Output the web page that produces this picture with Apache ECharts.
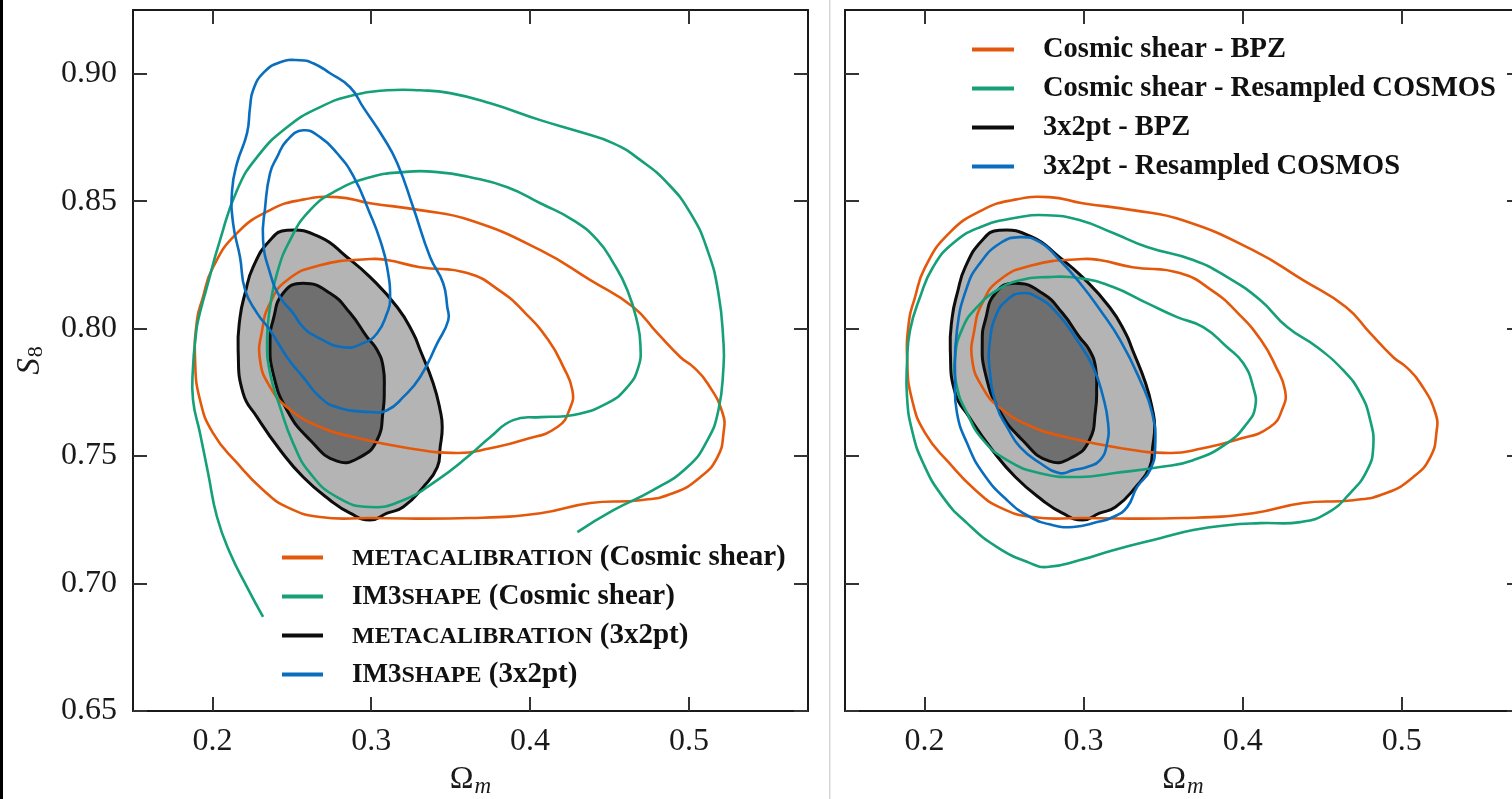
<!DOCTYPE html>
<html>
<head>
<meta charset="utf-8">
<script src="https://cdn.jsdelivr.net/npm/echarts@6/dist/echarts.min.js"></script>
<style>
  html, body { margin: 0; padding: 0; background: #fff; }
  #chart { width: 1512px; height: 799px; }
</style>
</head>
<body>
<div id="chart"></div>
<script>
// Tick positions shared by both panels
const omegaTicks = [0.2, 0.3, 0.4, 0.5];
const s8Ticks = [0.65, 0.70, 0.75, 0.80, 0.85, 0.90];

// Contours as [Omega_m, S8] pairs (95% and 68% levels)
// Cosmic shear, BPZ photo-z (metacalibration)
const shearBpz95 = [[0.2785,0.8516],[0.2993,0.8492],[0.3308,0.8465],[0.3624,0.8425],[0.4065,0.8308],[0.4380,0.8190],[0.4651,0.8084],[0.4802,0.7982],[0.4947,0.7888],[0.5029,0.7849],[0.5117,0.7786],[0.5212,0.7669],[0.5218,0.7590],[0.5180,0.7496],[0.5073,0.7418],[0.4903,0.7355],[0.4695,0.7327],[0.4380,0.7316],[0.4065,0.7276],[0.3624,0.7257],[0.2993,0.7257],[0.2678,0.7261],[0.2470,0.7300],[0.2319,0.7367],[0.2155,0.7473],[0.2004,0.7590],[0.1922,0.7720],[0.1891,0.7876],[0.1903,0.8033],[0.1935,0.8112],[0.2004,0.8241],[0.2155,0.8375],[0.2363,0.8465],[0.2552,0.8504]];
const shearBpz68 = [[0.2993,0.8273],[0.3100,0.8269],[0.3308,0.8241],[0.3605,0.8218],[0.3813,0.8147],[0.3970,0.8061],[0.4115,0.7955],[0.4210,0.7849],[0.4266,0.7759],[0.4254,0.7692],[0.4172,0.7614],[0.3957,0.7563],[0.3750,0.7531],[0.3542,0.7512],[0.3201,0.7535],[0.2886,0.7575],[0.2678,0.7614],[0.2470,0.7692],[0.2363,0.7771],[0.2300,0.7876],[0.2313,0.7994],[0.2363,0.8100],[0.2470,0.8190],[0.2678,0.8249]];
// 3x2pt, BPZ photo-z (metacalibration), filled
const x2ptBpz95 = [[0.2470,0.8386],[0.2678,0.8359],[0.2848,0.8280],[0.2993,0.8202],[0.3164,0.8084],[0.3264,0.7982],[0.3308,0.7916],[0.3390,0.7786],[0.3434,0.7680],[0.3447,0.7614],[0.3434,0.7535],[0.3416,0.7457],[0.3327,0.7378],[0.3201,0.7300],[0.3100,0.7276],[0.2993,0.7249],[0.2867,0.7276],[0.2741,0.7327],[0.2571,0.7418],[0.2426,0.7524],[0.2281,0.7653],[0.2193,0.7747],[0.2162,0.7916],[0.2174,0.8045],[0.2206,0.8139],[0.2256,0.8241],[0.2363,0.8347]];
const x2ptBpz68 = [[0.2571,0.8178],[0.2741,0.8139],[0.2867,0.8061],[0.2974,0.7967],[0.3037,0.7916],[0.3075,0.7849],[0.3082,0.7759],[0.3075,0.7680],[0.3037,0.7563],[0.2930,0.7496],[0.2785,0.7480],[0.2615,0.7563],[0.2470,0.7680],[0.2382,0.7825],[0.2363,0.7955],[0.2382,0.8033],[0.2445,0.8139]];
// im3shape cosmic shear (outer level leaves the plotted range at the bottom)
const im3Shear95 = [[0.2319,0.6869],[0.2218,0.6986],[0.2111,0.7120],[0.2029,0.7261],[0.1973,0.7433],[0.1922,0.7590],[0.1878,0.7720],[0.1878,0.7849],[0.1897,0.7982],[0.1910,0.8033],[0.1960,0.8151],[0.2048,0.8347],[0.2155,0.8543],[0.2281,0.8673],[0.2470,0.8790],[0.2678,0.8869],[0.2886,0.8916],[0.3100,0.8935],[0.3308,0.8935],[0.3497,0.8924],[0.3750,0.8884],[0.4065,0.8818],[0.4317,0.8771],[0.4525,0.8727],[0.4695,0.8661],[0.4865,0.8571],[0.5010,0.8453],[0.5117,0.8308],[0.5186,0.8139],[0.5218,0.7943],[0.5218,0.7849],[0.5186,0.7680],[0.5117,0.7563],[0.4991,0.7457],[0.4777,0.7367],[0.4525,0.7288],[0.4298,0.7202]];
const im3Shear68 = [[0.2993,0.8594],[0.3201,0.8614],[0.3416,0.8614],[0.3624,0.8594],[0.3857,0.8555],[0.4065,0.8492],[0.4273,0.8425],[0.4424,0.8347],[0.4525,0.8257],[0.4613,0.8151],[0.4676,0.8022],[0.4695,0.7935],[0.4682,0.7849],[0.4613,0.7771],[0.4487,0.7708],[0.4273,0.7661],[0.4065,0.7653],[0.3894,0.7641],[0.3750,0.7575],[0.3605,0.7496],[0.3416,0.7406],[0.3201,0.7327],[0.2993,0.7300],[0.2785,0.7339],[0.2615,0.7433],[0.2508,0.7551],[0.2426,0.7692],[0.2363,0.7825],[0.2344,0.7955],[0.2363,0.8084],[0.2407,0.8218],[0.2489,0.8347],[0.2615,0.8465],[0.2785,0.8543]];
// im3shape 3x2pt
const im3X2pt95 = [[0.2552,0.9053],[0.2634,0.9041],[0.2741,0.9002],[0.2867,0.8947],[0.2949,0.8869],[0.3075,0.8751],[0.3164,0.8649],[0.3264,0.8476],[0.3371,0.8280],[0.3453,0.8178],[0.3479,0.8084],[0.3485,0.8033],[0.3416,0.7943],[0.3308,0.7810],[0.3201,0.7731],[0.3100,0.7680],[0.2993,0.7673],[0.2785,0.7692],[0.2678,0.7731],[0.2571,0.7810],[0.2470,0.7888],[0.2363,0.7994],[0.2281,0.8061],[0.2206,0.8151],[0.2174,0.8280],[0.2130,0.8414],[0.2124,0.8543],[0.2155,0.8649],[0.2218,0.8767],[0.2237,0.8869],[0.2256,0.8935],[0.2319,0.9002],[0.2426,0.9045]];
const im3X2pt68 = [[0.2571,0.8778],[0.2678,0.8751],[0.2785,0.8688],[0.2886,0.8600],[0.2993,0.8450],[0.3056,0.8347],[0.3100,0.8241],[0.3119,0.8112],[0.3100,0.8061],[0.3037,0.7982],[0.2949,0.7943],[0.2823,0.7927],[0.2659,0.7967],[0.2571,0.8006],[0.2508,0.8061],[0.2426,0.8124],[0.2363,0.8218],[0.2319,0.8347],[0.2332,0.8476],[0.2363,0.8610],[0.2407,0.8673],[0.2470,0.8739]];
// Cosmic shear, resampled COSMOS photo-z
const shearCosmos95 = [[0.2770,0.8445],[0.2978,0.8425],[0.3186,0.8375],[0.3399,0.8320],[0.3689,0.8269],[0.3903,0.8202],[0.4110,0.8112],[0.4280,0.8006],[0.4469,0.7927],[0.4632,0.7837],[0.4739,0.7747],[0.4802,0.7641],[0.4821,0.7535],[0.4783,0.7445],[0.4676,0.7355],[0.4531,0.7276],[0.4362,0.7241],[0.4110,0.7237],[0.3903,0.7229],[0.3689,0.7210],[0.3481,0.7178],[0.3186,0.7131],[0.2978,0.7092],[0.2770,0.7065],[0.2664,0.7080],[0.2456,0.7143],[0.2267,0.7237],[0.2116,0.7339],[0.1991,0.7473],[0.1921,0.7602],[0.1890,0.7731],[0.1890,0.7865],[0.1909,0.7994],[0.1972,0.8124],[0.2053,0.8241],[0.2179,0.8335],[0.2349,0.8398],[0.2557,0.8433]];
const shearCosmos68 = [[0.2770,0.8202],[0.2978,0.8198],[0.3186,0.8163],[0.3399,0.8100],[0.3588,0.8045],[0.3752,0.8006],[0.3903,0.7927],[0.4003,0.7865],[0.4066,0.7771],[0.4079,0.7692],[0.4028,0.7629],[0.3903,0.7551],[0.3689,0.7484],[0.3481,0.7457],[0.3186,0.7433],[0.2978,0.7418],[0.2726,0.7433],[0.2519,0.7484],[0.2368,0.7563],[0.2267,0.7669],[0.2204,0.7771],[0.2192,0.7888],[0.2242,0.8006],[0.2330,0.8084],[0.2456,0.8151],[0.2601,0.8190]];
// 3x2pt, resampled COSMOS photo-z
const x2ptCosmos95 = [[0.2601,0.8359],[0.2726,0.8339],[0.2833,0.8280],[0.2978,0.8178],[0.3104,0.8073],[0.3230,0.7955],[0.3355,0.7798],[0.3431,0.7669],[0.3450,0.7535],[0.3418,0.7445],[0.3336,0.7378],[0.3274,0.7300],[0.3186,0.7261],[0.3085,0.7241],[0.2934,0.7222],[0.2808,0.7229],[0.2664,0.7261],[0.2519,0.7327],[0.2368,0.7433],[0.2267,0.7551],[0.2204,0.7669],[0.2192,0.7798],[0.2204,0.7994],[0.2267,0.8163],[0.2349,0.8257],[0.2475,0.8335]];
const x2ptCosmos68 = [[0.2601,0.8139],[0.2708,0.8124],[0.2833,0.8061],[0.2959,0.7955],[0.3060,0.7849],[0.3123,0.7731],[0.3154,0.7629],[0.3148,0.7551],[0.3104,0.7484],[0.3022,0.7457],[0.2934,0.7445],[0.2852,0.7433],[0.2726,0.7473],[0.2601,0.7535],[0.2519,0.7614],[0.2456,0.7692],[0.2412,0.7825],[0.2412,0.7955],[0.2456,0.8061],[0.2519,0.8112]];

const ORANGE = '#e4580c';
const GREEN = '#15a078';
const BLUE = '#0a6ebf';
const BLACK = '#0d0d0d';
const FILL95 = '#b4b4b4';
const FILL68 = '#6f6f6f';
const SERIF = '"Liberation Serif", "DejaVu Serif", serif';

const leftNames = {
  shear: 'METACALIBRATION (Cosmic shear)',
  im3shear: 'IM3SHAPE (Cosmic shear)',
  x2pt: 'METACALIBRATION (3x2pt)',
  im3x2pt: 'IM3SHAPE (3x2pt)'
};
const rightNames = {
  shear: 'Cosmic shear - BPZ',
  cosmos: 'Cosmic shear - Resampled COSMOS',
  x2pt: '3x2pt - BPZ',
  x2ptCosmos: '3x2pt - Resampled COSMOS'
};

// One custom series per contour; the whole outline is drawn from the first item
function contour(name, pts, panel, opt) {
  const closed = opt.closed !== false;
  return {
    type: 'custom',
    name: name,
    xAxisIndex: panel * 2,
    yAxisIndex: panel * 2,
    data: pts,
    encode: { x: 0, y: 1 },
    clip: true,
    z: opt.z,
    silent: true,
    itemStyle: { color: opt.stroke },
    renderItem: function (params, api) {
      if (params.dataIndex !== 0) return null;
      const points = pts.map(function (d) { return api.coord(d); });
      return {
        type: closed ? 'polygon' : 'polyline',
        shape: { points: points, smooth: 0.5 },
        style: {
          fill: opt.fill || null,
          stroke: opt.stroke,
          lineWidth: opt.width,
          lineJoin: 'round'
        }
      };
    }
  };
}

function xAxisPair(gridIndex) {
  const base = {
    type: 'value', gridIndex: gridIndex, min: 0.15, max: 0.575,
    splitLine: { show: false },
    axisLine: { show: true, onZero: false, lineStyle: { color: '#1a1a1a', width: 2 } },
    axisTick: { show: true, inside: true, length: 14, customValues: omegaTicks, lineStyle: { color: '#333', width: 2 } }
  };
  return [
    Object.assign({}, base, {
      position: 'bottom',
      axisLabel: { show: true, customValues: omegaTicks, margin: 15, fontFamily: SERIF, fontSize: 32, color: '#1a1a1a',
        formatter: function (v) { return v.toFixed(1); } },
      name: '{o|Ω}{m|m}',
      nameLocation: 'middle',
      nameGap: 50,
      nameTextStyle: {
        rich: {
          o: { fontFamily: SERIF, fontSize: 32, color: '#1a1a1a' },
          m: { fontFamily: SERIF, fontSize: 23, fontStyle: 'italic', color: '#1a1a1a', padding: [14, 0, 0, 1] }
        }
      }
    }),
    Object.assign({}, base, { position: 'top', axisLabel: { show: false } })
  ];
}

function yAxisPair(gridIndex, labels) {
  const base = {
    type: 'value', gridIndex: gridIndex, min: 0.65, max: 0.925,
    splitLine: { show: false },
    axisLine: { show: true, onZero: false, lineStyle: { color: '#1a1a1a', width: 2 } },
    axisTick: { show: true, inside: true, length: 14, customValues: s8Ticks, lineStyle: { color: '#333', width: 2 } }
  };
  const left = Object.assign({}, base, {
    position: 'left',
    axisLabel: { show: labels, customValues: s8Ticks, margin: 16, fontFamily: SERIF, fontSize: 32, color: '#1a1a1a',
      formatter: function (v) { return v.toFixed(2); } }
  });
  if (labels) {
    Object.assign(left, {
      name: '{s|S}{n|8}',
      nameLocation: 'middle',
      nameGap: 86,
      nameTextStyle: {
        rich: {
          s: { fontFamily: SERIF, fontSize: 33, fontStyle: 'italic', color: '#1a1a1a' },
          n: { fontFamily: SERIF, fontSize: 22, color: '#1a1a1a', padding: [12, 0, 0, 1] }
        }
      }
    });
  }
  return [left, Object.assign({}, base, { position: 'right', axisLabel: { show: false } })];
}

const series = [
  // left panel
  contour(leftNames.x2pt, x2ptBpz95, 0, { fill: FILL95, stroke: BLACK, width: 3, z: 2 }),
  contour(leftNames.x2pt, x2ptBpz68, 0, { fill: FILL68, stroke: BLACK, width: 3, z: 3 }),
  contour(leftNames.shear, shearBpz95, 0, { stroke: ORANGE, width: 2.6, z: 5 }),
  contour(leftNames.shear, shearBpz68, 0, { stroke: ORANGE, width: 2.6, z: 5 }),
  contour(leftNames.im3shear, im3Shear95, 0, { stroke: GREEN, width: 2.6, z: 5, closed: false }),
  contour(leftNames.im3shear, im3Shear68, 0, { stroke: GREEN, width: 2.6, z: 5 }),
  contour(leftNames.im3x2pt, im3X2pt95, 0, { stroke: BLUE, width: 2.6, z: 6 }),
  contour(leftNames.im3x2pt, im3X2pt68, 0, { stroke: BLUE, width: 2.6, z: 6 }),
  // right panel
  contour(rightNames.x2pt, x2ptBpz95, 1, { fill: FILL95, stroke: BLACK, width: 3, z: 2 }),
  contour(rightNames.x2pt, x2ptBpz68, 1, { fill: FILL68, stroke: BLACK, width: 3, z: 3 }),
  contour(rightNames.shear, shearBpz95, 1, { stroke: ORANGE, width: 2.6, z: 5 }),
  contour(rightNames.shear, shearBpz68, 1, { stroke: ORANGE, width: 2.6, z: 5 }),
  contour(rightNames.cosmos, shearCosmos95, 1, { stroke: GREEN, width: 2.6, z: 5 }),
  contour(rightNames.cosmos, shearCosmos68, 1, { stroke: GREEN, width: 2.6, z: 5 }),
  contour(rightNames.x2ptCosmos, x2ptCosmos95, 1, { stroke: BLUE, width: 2.6, z: 6 }),
  contour(rightNames.x2ptCosmos, x2ptCosmos68, 1, { stroke: BLUE, width: 2.6, z: 6 })
];

function legendItem(name, color) {
  return { name: name, icon: 'rect', itemStyle: { color: color, borderWidth: 0 } };
}

const chart = echarts.init(document.getElementById('chart'), null, { renderer: 'canvas' });
chart.setOption({
  backgroundColor: '#ffffff',
  animation: false,
  grid: [
    { left: 133, top: 10, width: 675, height: 701, outerBoundsMode: 'none' },
    { left: 845, top: 10, width: 676, height: 701, outerBoundsMode: 'none' }
  ],
  xAxis: xAxisPair(0).concat(xAxisPair(1)),
  yAxis: yAxisPair(0, true).concat(yAxisPair(1, false)),
  legend: [
    {
      left: 277, top: 538, orient: 'vertical', selectedMode: false,
      itemWidth: 41, itemHeight: 4, itemGap: 10,
      data: [
        legendItem(leftNames.shear, ORANGE),
        legendItem(leftNames.im3shear, GREEN),
        legendItem(leftNames.x2pt, BLACK),
        legendItem(leftNames.im3x2pt, BLUE)
      ],
      formatter: function (name) {
        if (name.indexOf('METACALIBRATION') === 0) {
          return '{sc|METACALIBRATION}{n|' + name.slice(15) + '}';
        }
        return '{big|IM3}{sc|SHAPE}{n|' + name.slice(8) + '}';
      },
      textStyle: {
        padding: [0, 0, 0, 24],
        rich: {
          sc: { fontFamily: SERIF, fontWeight: 'bold', fontSize: 24, color: '#111', lineHeight: 28, padding: [3, 0, 0, 0] },
          big: { fontFamily: SERIF, fontWeight: 'bold', fontSize: 27, color: '#111', lineHeight: 28, padding: [1, 0, 0, 0] },
          n: { fontFamily: SERIF, fontWeight: 'bold', fontSize: 29, color: '#111', lineHeight: 28 }
        }
      }
    },
    {
      left: 967, top: 30, orient: 'vertical', selectedMode: false,
      itemWidth: 42, itemHeight: 4, itemGap: 10,
      data: [
        legendItem(rightNames.shear, ORANGE),
        legendItem(rightNames.cosmos, GREEN),
        legendItem(rightNames.x2pt, BLACK),
        legendItem(rightNames.x2ptCosmos, BLUE)
      ],
      textStyle: {
        padding: [0, 0, 0, 24],
        fontFamily: SERIF, fontWeight: 'bold', fontSize: 28.5, color: '#111', lineHeight: 28
      }
    }
  ],
  graphic: [
    { type: 'rect', left: 0, top: 0, shape: { width: 3, height: 799 }, style: { fill: '#000' }, silent: true },
    { type: 'rect', left: 829, top: 0, shape: { width: 1.5, height: 799 }, style: { fill: '#d4d8dc' }, silent: true }
  ],
  series: series
});
</script>
</body>
</html>
